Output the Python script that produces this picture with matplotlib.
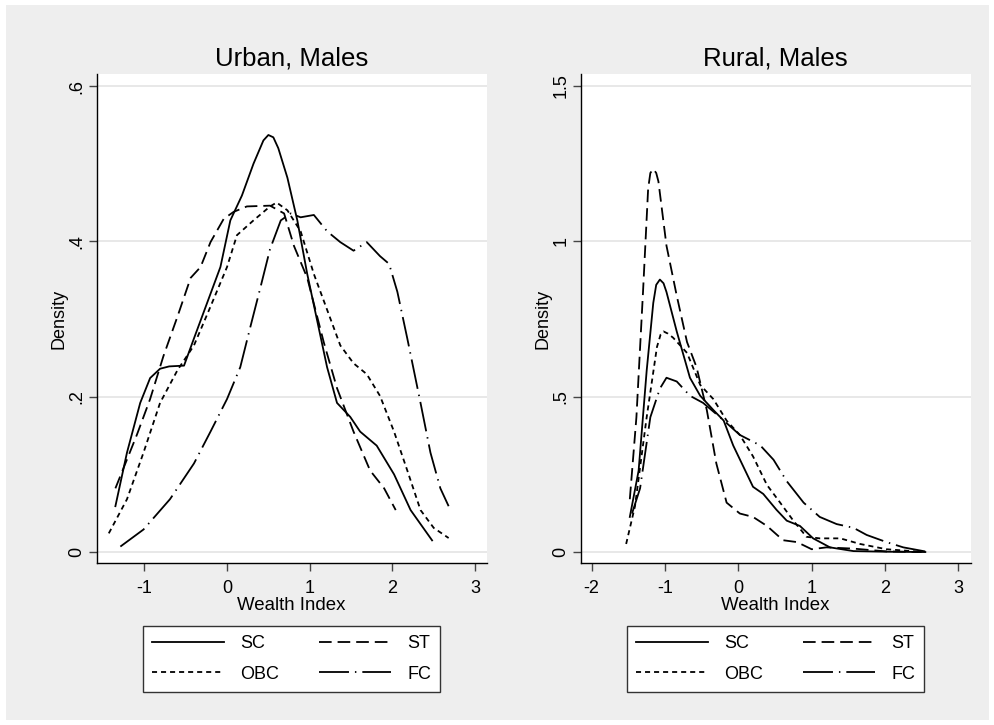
import matplotlib.pyplot as plt
from matplotlib.patches import Rectangle
from matplotlib.lines import Line2D

plt.rcParams['font.family'] = ['Liberation Sans', 'DejaVu Sans']

groups = ['SC', 'ST', 'OBC', 'FC']

# Urban, Males  (x = wealth index, y = density)
urban_sc_x = [-1.35, -1.21, -1.05, -0.93, -0.81, -0.70, -0.52, -0.40, -0.24, -0.08, 0.04, 0.18, 0.32, 0.44, 0.50,
              0.56, 0.62, 0.73, 0.85, 0.97, 1.09, 1.21, 1.33, 1.49, 1.61, 1.81, 2.02, 2.22, 2.48]
urban_sc_y = [0.059, 0.128, 0.192, 0.224, 0.236, 0.239, 0.240, 0.275, 0.321, 0.367, 0.427, 0.459, 0.500, 0.530, 0.537,
              0.534, 0.520, 0.482, 0.427, 0.358, 0.298, 0.238, 0.192, 0.174, 0.155, 0.137, 0.100, 0.054, 0.015]
urban_st_x = [-1.35, -1.09, -0.93, -0.77, -0.60, -0.44, -0.32, -0.20, -0.04, 0.08, 0.24, 0.52, 0.69, 0.81,
              0.97, 1.17, 1.33, 1.53, 1.73, 1.90, 2.04]
urban_st_y = [0.082, 0.151, 0.197, 0.252, 0.303, 0.353, 0.367, 0.399, 0.429, 0.438, 0.445, 0.446, 0.436, 0.394,
              0.353, 0.270, 0.211, 0.155, 0.105, 0.082, 0.054]
urban_obc_x = [-1.43, -1.21, -1.01, -0.81, -0.60, -0.40, -0.20, 0.00, 0.12, 0.32, 0.52, 0.60, 0.73, 0.89,
               1.05, 1.21, 1.37, 1.53, 1.69, 1.85, 2.02, 2.18, 2.34, 2.50, 2.68]
urban_obc_y = [0.024, 0.068, 0.128, 0.192, 0.234, 0.266, 0.316, 0.367, 0.408, 0.427, 0.445, 0.450, 0.440, 0.413,
               0.358, 0.312, 0.266, 0.243, 0.229, 0.201, 0.155, 0.105, 0.054, 0.031, 0.018]
urban_fc_x = [-1.29, -1.01, -0.69, -0.40, -0.20, 0.00, 0.16, 0.28, 0.40, 0.52, 0.65, 0.77, 0.89, 1.05,
              1.21, 1.37, 1.53, 1.69, 1.85, 1.96, 2.06, 2.18, 2.34, 2.46, 2.58, 2.68]
urban_fc_y = [0.007, 0.029, 0.068, 0.114, 0.155, 0.197, 0.238, 0.289, 0.339, 0.390, 0.427, 0.436, 0.431, 0.434,
              0.413, 0.399, 0.388, 0.399, 0.381, 0.371, 0.335, 0.275, 0.192, 0.128, 0.082, 0.059]

# Rural, Males
rural_sc_x = [-1.48, -1.36, -1.25, -1.16, -1.12, -1.07, -1.02, -0.98, -0.84, -0.66, -0.52, -0.34, -0.20, -0.07,
              0.07, 0.20, 0.34, 0.52, 0.66, 0.84, 1.02, 1.25, 1.57, 2.02, 2.55]
rural_sc_y = [0.113, 0.262, 0.584, 0.802, 0.860, 0.877, 0.865, 0.837, 0.710, 0.561, 0.503, 0.457, 0.423, 0.343,
              0.274, 0.210, 0.187, 0.136, 0.101, 0.084, 0.044, 0.015, 0.003, 0.001, 0.0]
rural_st_x = [-1.48, -1.39, -1.30, -1.23, -1.20, -1.16, -1.12, -1.09, -0.98, -0.84, -0.70, -0.57, -0.43, -0.30,
              -0.16, 0.02, 0.20, 0.39, 0.61, 0.80, 1.00, 1.20, 1.57, 2.02, 2.50]
rural_st_y = [0.170, 0.434, 0.837, 1.170, 1.220, 1.233, 1.220, 1.193, 0.986, 0.825, 0.676, 0.595, 0.457, 0.285,
              0.159, 0.124, 0.113, 0.084, 0.038, 0.032, 0.009, 0.015, 0.011, 0.002, 0.0]
rural_obc_x = [-1.53, -1.41, -1.25, -1.11, -1.06, -1.02, -0.96, -0.89, -0.70, -0.52, -0.34, -0.16, 0.02, 0.20,
               0.39, 0.57, 0.75, 0.93, 1.11, 1.39, 1.66, 2.02, 2.48]
rural_obc_y = [0.026, 0.147, 0.434, 0.660, 0.700, 0.710, 0.703, 0.690, 0.641, 0.538, 0.492, 0.423, 0.377, 0.308,
               0.216, 0.159, 0.101, 0.049, 0.044, 0.044, 0.026, 0.009, 0.001]
rural_fc_x = [-1.45, -1.34, -1.20, -1.07, -0.98, -0.84, -0.66, -0.48, -0.25, 0.02, 0.30, 0.48, 0.66, 0.89,
              1.11, 1.34, 1.57, 1.75, 2.02, 2.25, 2.57]
rural_fc_y = [0.124, 0.205, 0.434, 0.526, 0.561, 0.549, 0.503, 0.480, 0.434, 0.377, 0.343, 0.297, 0.228, 0.159,
              0.113, 0.090, 0.078, 0.055, 0.032, 0.015, 0.001]

urban_yticks = [0, 0.2, 0.4, 0.6]
urban_ylabels = ['0', '.2', '.4', '.6']
rural_yticks = [0, 0.5, 1, 1.5]
rural_ylabels = ['0', '.5', '1', '1.5']
urban_xticks = [-1, 0, 1, 2, 3]
rural_xticks = [-2, -1, 0, 1, 2, 3]

lw = 1.3
styles = {
    'SC': dict(linestyle='-'),
    'ST': dict(linestyle=(0, (7, 3.3))),
    'OBC': dict(linestyle=(0, (2.8, 2.2))),
    'FC': dict(linestyle=(0, (16.6, 3.3, 0.8, 3.3))),
}

fig = plt.figure(figsize=(9.95, 7.25), dpi=100, facecolor='white')
fig.patches.append(Rectangle((6 / 995, 5 / 725), 983 / 995, 715 / 725, transform=fig.transFigure,
                             facecolor='#eeeeee', edgecolor='none', zorder=-10))

# plot regions: top at 74 px, x-axis at 563 px
ax1 = fig.add_axes([0.0972, 0.2234, 0.392, 0.6745])
ax2 = fig.add_axes([0.5836, 0.2234, 0.392, 0.6745])

panels = [
    (ax1, 'Urban, Males', [(urban_sc_x, urban_sc_y), (urban_st_x, urban_st_y), (urban_obc_x, urban_obc_y),
                           (urban_fc_x, urban_fc_y)],
     urban_xticks, urban_yticks, urban_ylabels, (-1.576, 3.141), (-0.0142, 0.6155)),
    (ax2, 'Rural, Males', [(rural_sc_x, rural_sc_y), (rural_st_x, rural_st_y), (rural_obc_x, rural_obc_y),
                           (rural_fc_x, rural_fc_y)],
     rural_xticks, rural_yticks, rural_ylabels, (-2.150, 3.169), (-0.0354, 1.5386)),
]

for ax, title, series, xt, yt, yl, xlim, ylim in panels:
    ax.set_facecolor('white')
    for g, (x, y) in zip(groups, series):
        ax.plot(x, y, color='black', lw=lw, dash_capstyle='butt', **styles[g])
    ax.set_xlim(*xlim)
    ax.set_ylim(*ylim)
    ax.set_xticks(xt)
    ax.set_xticklabels([str(v) for v in xt])
    ax.set_yticks(yt)
    ax.set_yticklabels(yl, rotation=90, va='center')
    ax.grid(axis='y', color='#e4e4e4', lw=1.2)
    ax.set_axisbelow(True)
    for s in ['top', 'right']:
        ax.spines[s].set_visible(False)
    for s in ['left', 'bottom']:
        ax.spines[s].set_color('black')
        ax.spines[s].set_linewidth(1.0)
    ax.tick_params(length=6, width=1, color='#444444', labelsize=13)
    ax.tick_params(axis='x', pad=6)
    ax.tick_params(axis='y', pad=2)
    ax.set_title(title, fontsize=18.5, pad=6)
    ax.set_xlabel('Wealth Index', fontsize=13.4, labelpad=0)
    ax.set_ylabel('Density', fontsize=13, labelpad=1)

    handles = [Line2D([], [], color='black', lw=lw, **styles[g]) for g in ['SC', 'OBC', 'ST', 'FC']]
    pos = ax.get_position()
    fig.legend(handles, ['SC', 'OBC', 'ST', 'FC'], ncol=2, loc='upper center',
               bbox_to_anchor=((pos.x0 + pos.x1) / 2, 1 - 626 / 725), bbox_transform=fig.transFigure,
               fontsize=13, frameon=True, fancybox=False, edgecolor='#333333', framealpha=1,
               handlelength=4.0, handletextpad=0.9, columnspacing=2.2, labelspacing=0.75,
               borderpad=0.5, borderaxespad=0)

fig.savefig('out.png', dpi=100, facecolor=fig.get_facecolor())
